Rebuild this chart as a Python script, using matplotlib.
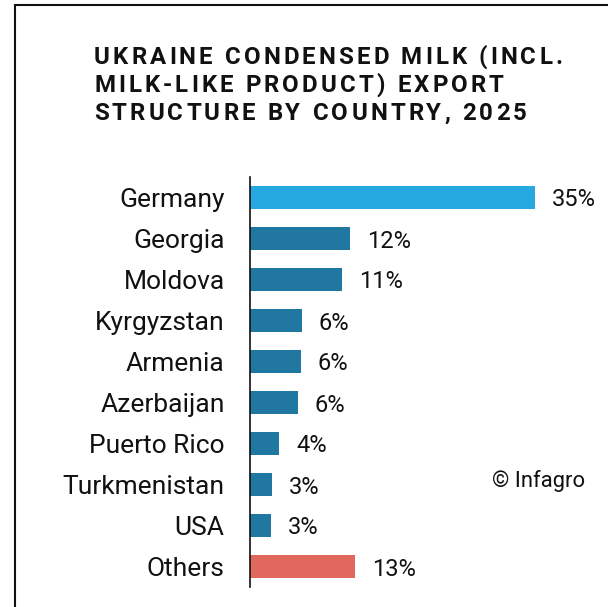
import matplotlib
matplotlib.use("Agg")
import matplotlib.pyplot as plt
from matplotlib.patches import Rectangle

# export shares, % (2025)
countries = ["Germany", "Georgia", "Moldova", "Kyrgyzstan", "Armenia",
             "Azerbaijan", "Puerto Rico", "Turkmenistan", "USA", "Others"]
shares = [35.0, 12.3, 11.3, 6.4, 6.3, 5.9, 3.6, 2.7, 2.6, 12.9]
title_lines = ["UKRAINE CONDENSED MILK (INCL.",
               "MILK-LIKE PRODUCT) EXPORT",
               "STRUCTURE BY COUNTRY, 2025"]

plt.rcParams['font.family'] = ['Roboto', 'DejaVu Sans']

W, H = 608, 607
fig = plt.figure(figsize=(W / 100, H / 100), dpi=100)
renderer = fig.canvas.get_renderer()

# frame around the card (only top and left edges are visible)
fig.patches.append(Rectangle((15 / W, -0.1), 1.2, 1 - 5 / H + 0.1,
                             transform=fig.transFigure, fill=False,
                             edgecolor='#111111', linewidth=1.5))


def spaced_text(x_px, y_px, s, spacing, **kw):
    # draw a line char by char with extra tracking
    ref = fig.text(0, 0, "HH", **kw)
    base = ref.get_window_extent(renderer).width
    ref.remove()
    x = x_px
    for c in s:
        fig.text(x / W, 1 - y_px / H, c, va='baseline', ha='left', **kw)
        probe = fig.text(0, 0, "H" + c + "H", **kw)
        adv = probe.get_window_extent(renderer).width - base
        probe.remove()
        x += adv + spacing


for i, line in enumerate(title_lines):
    spaced_text(94, 63.5 + i * 28, line, 3.1,
                fontsize=17.3, fontweight='bold', color='#111111')

ax = fig.add_axes([249.7 / W, 20 / H, 326 / W, 410 / H])
colors = ['#25A9E0'] + ['#1F77A2'] * 8 + ['#E1685C']
y = range(len(countries))
ax.barh(y, shares, height=0.54, color=colors)
ax.set_ylim(len(countries) - 0.5, -0.5)
ax.set_xlim(0, 40)
ax.set_yticks(list(y))
ax.set_yticklabels(countries, fontsize=19, color='#111111')
ax.tick_params(axis='y', length=0, pad=18)
ax.set_xticks([])
for side in ['top', 'right', 'bottom']:
    ax.spines[side].set_visible(False)
ax.spines['left'].set_linewidth(1.2)
ax.spines['left'].set_color('#111111')

for yi, v in zip(y, shares):
    ax.annotate(f"{v:.0f}%", (v, yi), xytext=(12.2, 0), textcoords='offset points',
                va='center_baseline', ha='left', fontsize=17, color='#111111')

fig.text(585 / W, 1 - 487 / H, "© Infagro", ha='right', va='baseline',
         fontsize=15.8, color='#111111')

fig.savefig("out.png", dpi=100)
